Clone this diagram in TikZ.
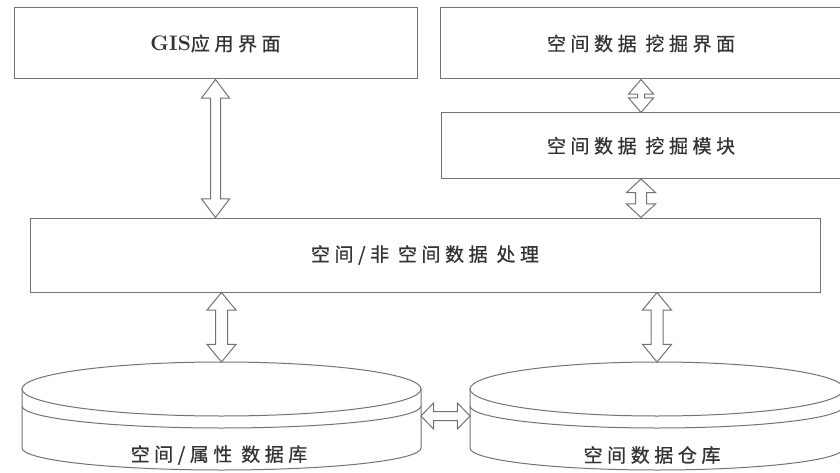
\documentclass[tikz,border=0pt]{standalone}
\usepackage{fontspec}
\newfontfamily\cjk[LetterSpace=24, FakeBold=0.6]{Noto Sans CJK SC}
\usetikzlibrary{shapes.arrows,calc}
\definecolor{linegray}{gray}{0.45}
\definecolor{textgray}{gray}{0.2}

\tikzset{
  box/.style={draw=linegray, line width=1pt, inner sep=0pt, text=textgray, font=\cjk\fontsize{19}{21}\selectfont},
  label/.style={inner sep=0pt, text=textgray, font=\cjk\fontsize{19}{21}\selectfont},
  anchorbox/.style={inner sep=0pt, outer sep=0pt},
  disk/.style={draw=linegray, line width=1pt, fill=white},
  fatarrow/.style={double arrow, draw=linegray, fill=white, line width=1pt, inner sep=4.5pt, outer sep=0pt, double arrow head extend=9pt, double arrow tip angle=74},
  fat/.style={to path={let \p1=(\tikztostart), \p2=(\tikztotarget), \n1={veclen(\x2-\x1,\y2-\y1)} in -- (\tikztotarget) node[midway, sloped, fatarrow, minimum height=\n1, #1] {}}},
  fat/.default={}
}

\begin{document}
\begin{tikzpicture}[x=1pt, y=1pt]
	\useasboundingbox (0,0) rectangle (840,472);
	% boxes
	\node[box, minimum width=403pt, minimum height=71pt] (gis) at (215.5,428.5) {{\rmfamily\bfseries\fontsize{21}{23}\selectfont GIS}应用界面};
	\node[box, minimum width=402pt, minimum height=71pt] (mineui) at (641,428.5) {空间数据 挖掘界面};
	\node[box, minimum width=400pt, minimum height=65.5pt] (minemod) at (641,326.25) {空间数据 挖掘模块};
	\node[box, minimum width=790pt, minimum height=74pt] (proc) at (425,217) {空间/非 空间数据 处理};
	% databases
	\node[anchorbox, minimum width=399pt, minimum height=108pt] (db1) at (221.5,56) {};
	\draw[disk] (22,83) -- (22,24) arc[start angle=180, end angle=360, x radius=199.5, y radius=22] -- (421,83);
	\draw[disk] (221.5,83) ellipse[x radius=199.5, y radius=27];
	\draw[draw=linegray, line width=1pt] (22,66) arc[start angle=180, end angle=360, x radius=199.5, y radius=22];
	\node[label] (db1lbl) at (219,17) {空间/属性 数据库};
	\node[anchorbox, minimum width=374pt, minimum height=108pt] (db2) at (657,56) {};
	\draw[disk] (470,83) -- (470,24) arc[start angle=180, end angle=360, x radius=187, y radius=22] -- (844,83);
	\draw[disk] (657,83) ellipse[x radius=187, y radius=27];
	\draw[draw=linegray, line width=1pt] (470,66) arc[start angle=180, end angle=360, x radius=187, y radius=22];
	\node[label] (db2lbl) at (652,17) {空间数据仓库};
	% arrows
	\path (gis.south) to[fat] (gis.south |- proc.north);
	\path (mineui.south) to[fat={inner sep=3pt, double arrow tip angle=81}] (minemod.north);
	\path (minemod.south) to[fat={inner sep=5pt, double arrow tip angle=94}] (minemod.south |- proc.north);
	\path (db1.north |- proc.south) to[fat={inner sep=5.5pt, double arrow head extend=8.5pt, double arrow tip angle=79}] (db1.north);
	\path (db2.north |- proc.south) to[fat={inner sep=5.5pt, double arrow head extend=8.5pt, double arrow tip angle=79}] (db2.north);
	\path (db1.east) to[fat={inner sep=4pt, double arrow head extend=8.5pt, double arrow tip angle=92}] (db2.west);
\end{tikzpicture}
\end{document}
